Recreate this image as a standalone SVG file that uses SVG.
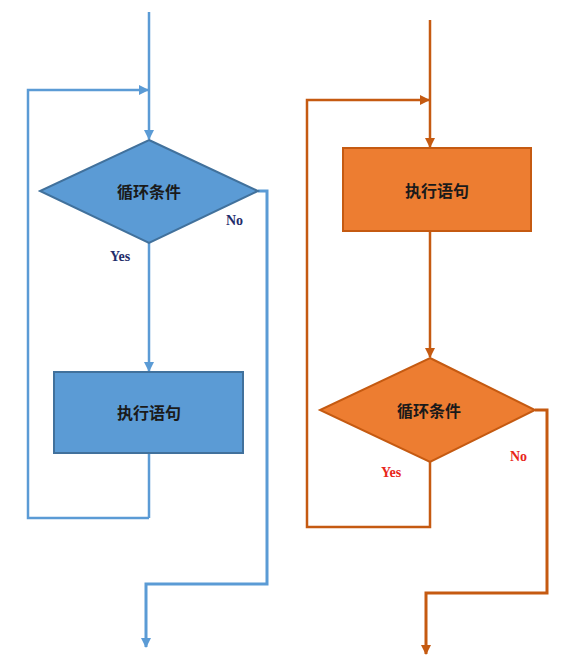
<svg xmlns="http://www.w3.org/2000/svg" width="570" height="665" viewBox="0 0 570 665">
<defs>
<marker id="ab" viewBox="0 0 10 10" refX="9" refY="5" markerWidth="10" markerHeight="10" markerUnits="userSpaceOnUse" orient="auto"><path d="M0,0 L10,5 L0,10 z" fill="#5B9BD5"/></marker>
<marker id="ao" viewBox="0 0 10 10" refX="9" refY="5" markerWidth="10" markerHeight="10" markerUnits="userSpaceOnUse" orient="auto"><path d="M0,0 L10,5 L0,10 z" fill="#C55A11"/></marker>
<style>
.cb{fill:none;stroke:#5B9BD5;stroke-width:2.5}
.co{fill:none;stroke:#C55A11;stroke-width:2.5}
.nb{fill:#5B9BD5;stroke:#41719C;stroke-width:2}
.no{fill:#ED7D31;stroke:#C55A11;stroke-width:2}
.t{font-family:"Noto Sans CJK SC","Liberation Sans",sans-serif;font-size:16px;font-weight:bold;fill:#1a1a1a;text-anchor:middle;dominant-baseline:central}
.lb{font-family:"Liberation Serif",serif;font-size:14px;font-weight:bold;fill:#1F2D6B}
.lo{font-family:"Liberation Serif",serif;font-size:14px;font-weight:bold;fill:#E8261A}
</style>
</defs>
<rect width="570" height="665" fill="#ffffff"/>
<g id="connectors">
<path class="cb" d="M149,12 V139" marker-end="url(#ab)"/>
<path class="cb" d="M149,518 H28 V90 H148" marker-end="url(#ab)"/>
<path class="cb" d="M149,243 V371" marker-end="url(#ab)"/>
<path class="cb" d="M149,453 V518"/>
<path class="cb" style="stroke-width:3" d="M258,191 H267 V584 H146 V647" marker-end="url(#ab)"/>
<path class="co" d="M430,20 V147" marker-end="url(#ao)"/>
<path class="co" d="M430,462 V527 H307 V100 H429" marker-end="url(#ao)"/>
<path class="co" d="M430,231 V357" marker-end="url(#ao)"/>
<path class="co" style="stroke-width:3" d="M535,410 H547 V593 H426 V654" marker-end="url(#ao)"/>
</g>
<g id="cond1">
<polygon class="nb" points="149,140 258,191 149,243 40,191"/>
<text class="t" x="149" y="191">循环条件</text>
</g>
<g id="stmt1">
<rect class="nb" x="54" y="372" width="189" height="81"/>
<text class="t" x="149" y="412">执行语句</text>
</g>
<g id="stmt2">
<rect class="no" x="343" y="148" width="188" height="83"/>
<text class="t" x="437" y="190">执行语句</text>
</g>
<g id="cond2">
<polygon class="no" points="430,358 535,410 430,462 320,410"/>
<text class="t" x="429" y="410">循环条件</text>
</g>
<g id="labels">
<text class="lb" x="110" y="261">Yes</text>
<text class="lb" x="226" y="225">No</text>
<text class="lo" x="381" y="477">Yes</text>
<text class="lo" x="510" y="461">No</text>
</g>
</svg>
